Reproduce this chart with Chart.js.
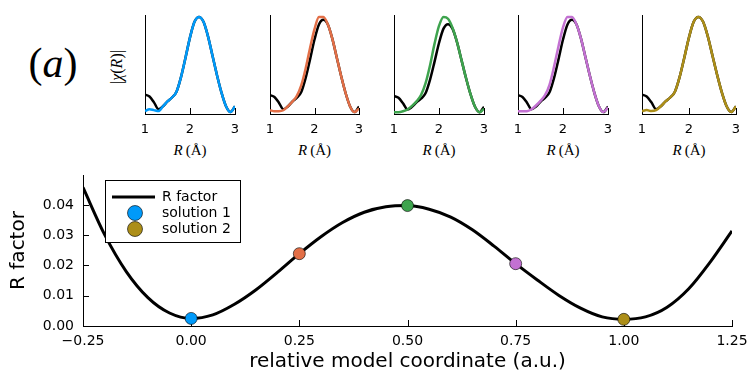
<!DOCTYPE html>
<html>
<head>
<meta charset="utf-8">
<script src="https://cdn.jsdelivr.net/npm/chart.js@4.4.1/dist/chart.umd.min.js"></script>
<style>
body { margin: 0; background: #fff; }
#wrap { position: relative; width: 747px; height: 374px; overflow: hidden; background: #fff; }
canvas { position: absolute; }
.lbl { position: absolute; font-family: 'Liberation Serif', serif; color: #000; white-space: nowrap; text-align: center; }
</style>
</head>
<body>
<div id="wrap">
  <div class="lbl" style="left:18px;top:38px;width:70px;font-size:42px;line-height:50px">(<i>a</i>)</div>
  <div class="lbl" style="left:87px;top:57px;width:60px;height:20px;font-size:16px;line-height:20px;transform:rotate(-90deg)">|<i>χ</i>(<i>R</i>)|</div>
  <canvas id="rfac" width="747" height="209" style="left:0;top:165px"></canvas>
</div>
<script>
// |chi(R)| panels: R grid, reference (black) and the five fits
var rGrid = [1.0, 1.1, 1.2, 1.3, 1.4, 1.5, 1.6, 1.7, 1.8, 1.9, 2.0, 2.1, 2.2, 2.3, 2.4, 2.5, 2.6, 2.7, 2.8, 2.9, 3.0];
var chiRef  = [0.20, 0.18, 0.12, 0.05, 0.08, 0.13, 0.17, 0.23, 0.38, 0.58, 0.79, 0.95, 1.00, 0.95, 0.80, 0.60, 0.40, 0.22, 0.08, 0.02, 0.08];
var chiFit1 = [0.03, 0.05, 0.04, 0.03, 0.08, 0.13, 0.17, 0.23, 0.38, 0.58, 0.79, 0.95, 1.00, 0.95, 0.80, 0.60, 0.40, 0.22, 0.08, 0.02, 0.08];
var chiFit2 = [0.04, 0.03, 0.03, 0.04, 0.08, 0.13, 0.19, 0.30, 0.48, 0.70, 0.90, 1.03, 1.03, 0.95, 0.80, 0.60, 0.40, 0.22, 0.08, 0.02, 0.06];
var chiFit3 = [0.02, 0.02, 0.03, 0.05, 0.09, 0.14, 0.21, 0.34, 0.54, 0.78, 0.98, 1.08, 1.06, 0.96, 0.80, 0.60, 0.40, 0.22, 0.08, 0.02, 0.06];
var chiFit4 = [0.03, 0.03, 0.03, 0.05, 0.09, 0.14, 0.20, 0.31, 0.50, 0.72, 0.92, 1.03, 1.03, 0.95, 0.80, 0.60, 0.40, 0.22, 0.08, 0.02, 0.07];
var chiFit5 = [0.03, 0.04, 0.03, 0.04, 0.08, 0.13, 0.17, 0.23, 0.38, 0.58, 0.79, 0.95, 1.00, 0.95, 0.80, 0.60, 0.40, 0.22, 0.08, 0.02, 0.08];
var rTicks = [1, 2, 3];

// R factor along the model coordinate
var coord = [-0.25, -0.20, -0.15, -0.10, -0.05, 0.00, 0.05, 0.10, 0.15, 0.20, 0.25, 0.30, 0.35, 0.40, 0.45, 0.50,
             0.55, 0.60, 0.65, 0.70, 0.75, 0.80, 0.85, 0.90, 0.95, 1.00, 1.05, 1.10, 1.15, 1.20, 1.25];
var rFactor = [0.0458, 0.0302, 0.0180, 0.0094, 0.0043, 0.0025, 0.0037, 0.0072, 0.0120, 0.0178, 0.0239, 0.0295, 0.0342, 0.0376, 0.0394, 0.0398,
               0.0386, 0.0360, 0.0318, 0.0264, 0.0206, 0.0152, 0.0101, 0.0059, 0.0030, 0.0022, 0.0030, 0.0062, 0.0123, 0.0212, 0.0314];
var solCoord = [0.00, 0.25, 0.50, 0.75, 1.00];
var solR = [0.0025, 0.0239, 0.0398, 0.0206, 0.0022];
var legendNames = ['R factor', 'solution 1', 'solution 2'];

var colors = ['#009afa', '#e36f47', '#3ea44e', '#c371d2', '#ac8e18'];
var fits = [chiFit1, chiFit2, chiFit3, chiFit4, chiFit5];

Chart.defaults.font.family = 'DejaVu Sans';
Chart.defaults.color = '#000';

function xy(xs, ys) {
    return xs.map(function (x, i) { return { x: x, y: ys[i] } });
}

// keep the plot box where we put it, no extra room for edge labels
function fixW(w) {
    return function (s) { s.width = w; s.paddingTop = 0; s.paddingBottom = 0 };
}
function fixH(h) {
    return function (s) { s.height = h; s.paddingLeft = 0; s.paddingRight = 0 };
}

// ticks drawn inside the plot area, like the original
var inTicks = {
    id: 'inTicks',
    beforeDatasetsDraw: function (chart, args, opts) {
        var ctx = chart.ctx, a = chart.chartArea;
        ctx.save();
        ctx.strokeStyle = '#000';
        ctx.lineWidth = 1;
        if (opts.x) {
            chart.scales.x.ticks.forEach(function (t) {
                var p = Math.round(chart.scales.x.getPixelForValue(t.value)) + 0.5;
                ctx.beginPath(); ctx.moveTo(p, a.bottom); ctx.lineTo(p, a.bottom - opts.x); ctx.stroke();
            });
        }
        if (opts.y) {
            chart.scales.y.ticks.forEach(function (t) {
                var p = Math.round(chart.scales.y.getPixelForValue(t.value)) + 0.5;
                ctx.beginPath(); ctx.moveTo(a.left, p); ctx.lineTo(a.left + opts.y, p); ctx.stroke();
            });
        }
        ctx.restore();
    }
};

// boxed legend in the upper left of the plot
var boxLegend = {
    id: 'boxLegend',
    afterDraw: function (chart) {
        var ctx = chart.ctx, a = chart.chartArea;
        var bx = a.left + 22, by = a.top + 5;
        ctx.save();
        ctx.fillStyle = '#fff';
        ctx.fillRect(bx, by, 136, 63);
        ctx.strokeStyle = '#000';
        ctx.lineWidth = 1;
        ctx.strokeRect(bx + 0.5, by + 0.5, 135, 62);
        var rows = [by + 17, by + 33, by + 49];
        ctx.lineWidth = 3;
        ctx.beginPath(); ctx.moveTo(bx + 7, rows[0]); ctx.lineTo(bx + 50, rows[0]); ctx.stroke();
        [colors[0], colors[4]].forEach(function (c, i) {
            ctx.beginPath();
            ctx.arc(bx + 30, rows[i + 1], 7.5, 0, Math.PI * 2);
            ctx.fillStyle = c; ctx.fill();
            ctx.lineWidth = 1; ctx.strokeStyle = 'rgba(0,0,0,0.6)'; ctx.stroke();
        });
        ctx.fillStyle = '#000';
        ctx.font = '14px "DejaVu Sans"';
        ctx.textBaseline = 'middle';
        legendNames.forEach(function (n, i) { ctx.fillText(n, bx + 57, rows[i]) });
        ctx.restore();
    }
};

// top row of |chi(R)| panels
var panelLeft = [145, 270, 394, 518, 642];
var panelWidth = [90, 89, 90, 90, 94];
var wrap = document.getElementById('wrap');
fits.forEach(function (fit, i) {
    var cv = document.createElement('canvas');
    cv.width = panelWidth[i] + 24;
    cv.height = 140;
    cv.style.left = (panelLeft[i] - 12) + 'px';
    cv.style.top = '0px';
    wrap.appendChild(cv);

    var lab = document.createElement('div');
    lab.className = 'lbl';
    lab.style.cssText = 'left:' + panelLeft[i] + 'px;top:141px;width:' + panelWidth[i] + 'px;font-size:15px;line-height:18px';
    lab.innerHTML = '<i>R</i>&#8201;(Å)';
    wrap.appendChild(lab);

    var top = Math.max.apply(null, chiRef.concat(fit)) * 1.02;
    new Chart(cv, {
        type: 'scatter',
        data: {
            datasets: [
                { data: xy(rGrid, fit), showLine: true, borderColor: colors[i], borderWidth: 2.5, pointRadius: 0, cubicInterpolationMode: 'monotone' },
                { data: xy(rGrid, chiRef), showLine: true, borderColor: '#000', borderWidth: 2.5, pointRadius: 0, cubicInterpolationMode: 'monotone' }
            ]
        },
        options: {
            responsive: false,
            animation: false,
            events: [],
            layout: { padding: { left: 12, right: 12, top: 15, bottom: 0 } },
            plugins: { legend: { display: false }, tooltip: { enabled: false }, inTicks: { x: 6 } },
            scales: {
                x: {
                    type: 'linear', min: rTicks[0], max: rTicks[rTicks.length - 1],
                    grid: { display: false, drawTicks: false },
                    border: { display: true, color: '#000', width: 1 },
                    ticks: { stepSize: 1, padding: 8, font: { size: 13 }, maxRotation: 0 },
                    afterFit: fixH(26)
                },
                y: {
                    min: 0, max: top,
                    grid: { display: false, drawTicks: false },
                    border: { display: true, color: '#000', width: 1 },
                    ticks: { display: false },
                    afterFit: fixW(0)
                }
            }
        },
        plugins: [inTicks]
    });
});

// main R factor chart
new Chart(document.getElementById('rfac'), {
    type: 'scatter',
    data: {
        datasets: [
            { data: xy(coord, rFactor), showLine: true, borderColor: '#000', borderWidth: 3, pointRadius: 0, cubicInterpolationMode: 'monotone', order: 2 },
            { data: xy(solCoord, solR), pointRadius: 6, pointBackgroundColor: colors, pointBorderColor: 'rgba(0,0,0,0.6)', pointBorderWidth: 1, order: 1 }
        ]
    },
    options: {
        responsive: false,
        animation: false,
        events: [],
        layout: { padding: { left: 0, right: 15, top: 10, bottom: 0 } },
        plugins: { legend: { display: false }, tooltip: { enabled: false }, inTicks: { x: 6, y: 6 } },
        scales: {
            x: {
                type: 'linear', min: -0.25, max: 1.25,
                grid: { display: false, drawTicks: false },
                border: { display: true, color: '#000', width: 1 },
                ticks: {
                    stepSize: 0.25, padding: 7, font: { size: 14 }, maxRotation: 0,
                    callback: function (v) { if (Math.abs(v) < 1e-9) v = 0; return v.toFixed(2).replace('-', '\u2212') }
                },
                title: { display: true, text: 'relative model coordinate (a.u.)', font: { size: 20 }, padding: { top: 0, bottom: 0 } },
                afterFit: fixH(48)
            },
            y: {
                min: 0, max: 0.0499,
                grid: { display: false, drawTicks: false },
                border: { display: true, color: '#000', width: 1 },
                ticks: {
                    stepSize: 0.01, includeBounds: false, padding: 9, font: { size: 14 },
                    callback: function (v) { return v.toFixed(2) }
                },
                title: { display: true, text: 'R factor', font: { size: 20 }, padding: { top: 7, bottom: 0 } },
                afterFit: fixW(83)
            }
        }
    },
    plugins: [inTicks, boxLegend]
});
</script>
</body>
</html>
